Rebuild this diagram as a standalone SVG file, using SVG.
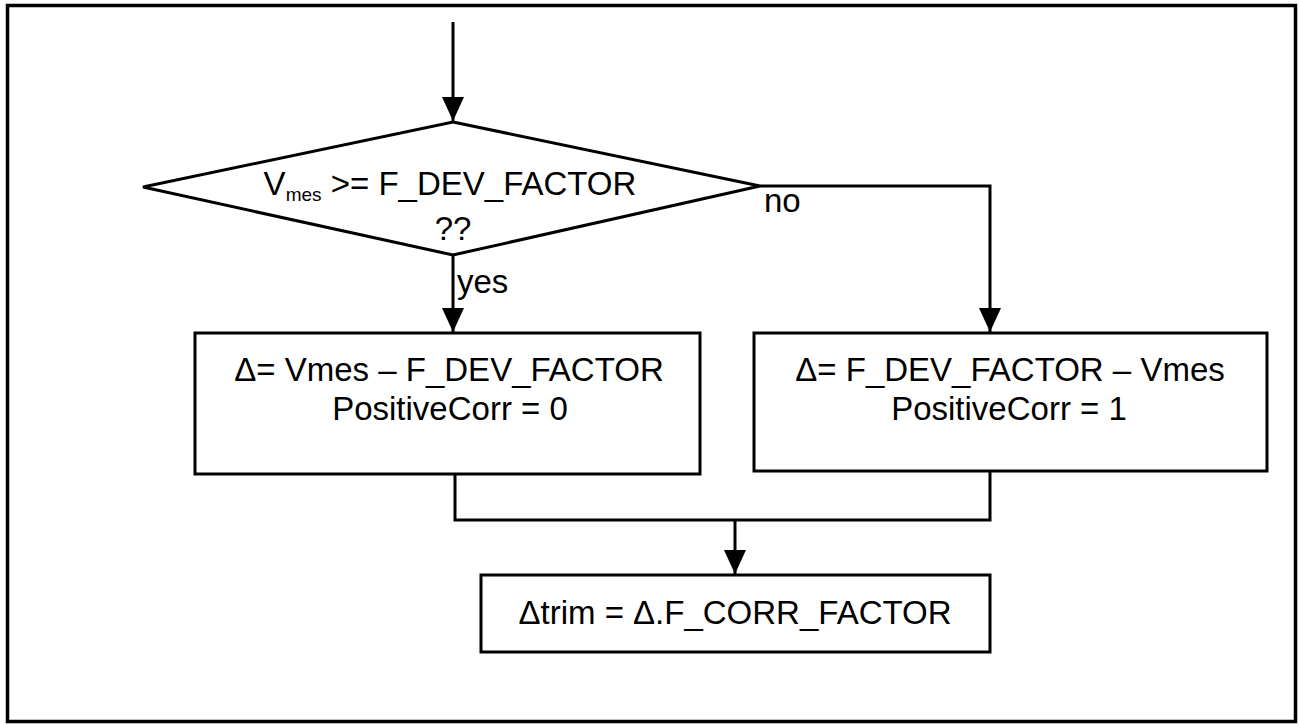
<svg xmlns="http://www.w3.org/2000/svg" width="1299" height="725" viewBox="0 0 1299 725">
  <style>
    .shape { fill: #ffffff; stroke: #000000; stroke-width: 3; }
    .wire { fill: none; stroke: #000000; stroke-width: 3; }
    .lbl { font-family: "Liberation Sans", Arial, sans-serif; font-size: 33px; fill: #000000; }
    .mid { text-anchor: middle; }
  </style>
  <defs>
    <marker id="arrow" markerWidth="24" markerHeight="22" refX="24" refY="11" orient="auto" markerUnits="userSpaceOnUse" viewBox="0 0 24 22">
      <path d="M0,0 L24,11 L0,22 Z" fill="#000000"/>
    </marker>
  </defs>

  <!-- outer frame -->
  <rect x="7.5" y="5.5" width="1288" height="716" fill="#ffffff" stroke="#000000" stroke-width="3.5"/>

  <!-- connectors -->
  <g id="connectors">
    <line class="wire" x1="453" y1="22" x2="453" y2="121" marker-end="url(#arrow)"/>
    <line class="wire" x1="453" y1="255" x2="453" y2="332" marker-end="url(#arrow)"/>
    <polyline class="wire" points="760,186 990,186 990,332" marker-end="url(#arrow)"/>
    <polyline class="wire" points="455,474 455,520 990,520 990,471"/>
    <line class="wire" x1="735" y1="520" x2="735" y2="574" marker-end="url(#arrow)"/>
    <text class="lbl" x="764" y="212" font-size="28">no</text>
    <text class="lbl" x="457" y="293" font-size="28">yes</text>
  </g>

  <!-- decision -->
  <g id="decision">
    <polygon class="shape" points="453,122 760,186 453,255 143,187"/>
    <text class="lbl mid" x="450" y="195" font-size="30">V<tspan font-size="19" dy="6">mes</tspan><tspan dy="-6"> &gt;= F_DEV_FACTOR</tspan></text>
    <text class="lbl mid" x="453" y="240" font-size="30">??</text>
  </g>

  <!-- yes branch -->
  <g id="delta-positive">
    <rect class="shape" x="195" y="333" width="505" height="141"/>
    <text class="lbl mid" x="449" y="381">Δ= Vmes – F_DEV_FACTOR</text>
    <text class="lbl mid" x="450" y="420">PositiveCorr = 0</text>
  </g>

  <!-- no branch -->
  <g id="delta-negative">
    <rect class="shape" x="754" y="333" width="513" height="138"/>
    <text class="lbl mid" x="1010" y="381">Δ= F_DEV_FACTOR – Vmes</text>
    <text class="lbl mid" x="1009" y="420">PositiveCorr = 1</text>
  </g>

  <!-- trim result -->
  <g id="trim">
    <rect class="shape" x="481" y="575" width="509" height="77"/>
    <text class="lbl mid" x="735" y="624">Δtrim = Δ.F_CORR_FACTOR</text>
  </g>
</svg>
